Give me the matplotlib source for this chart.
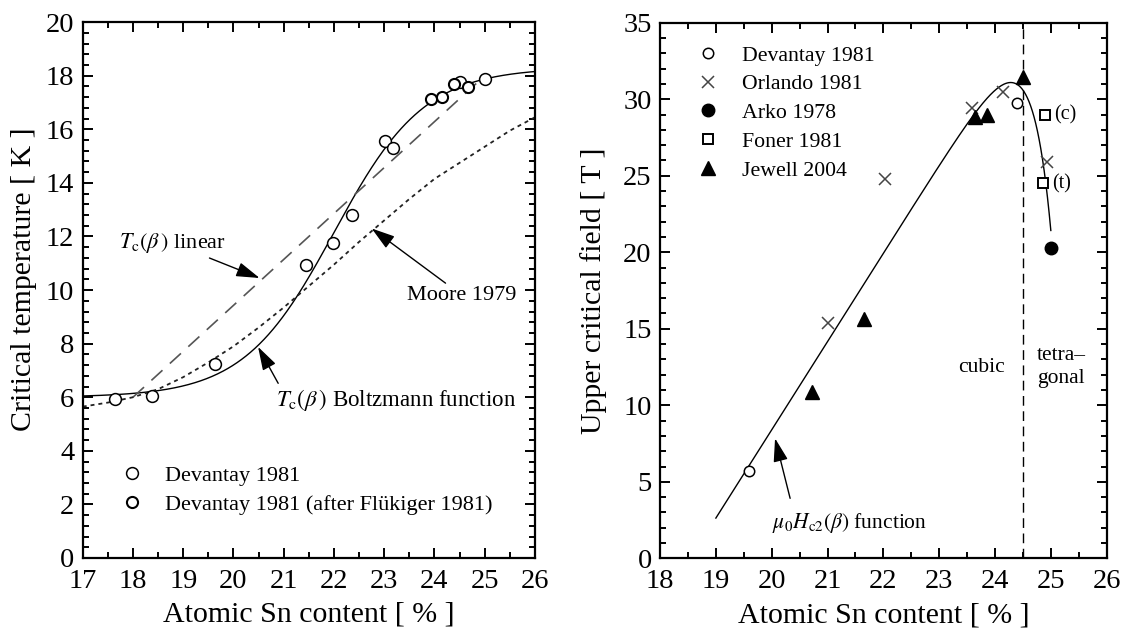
import numpy as np
import matplotlib
matplotlib.use("Agg")
import matplotlib.pyplot as plt
from matplotlib.ticker import MultipleLocator

plt.rcParams['font.family'] = ['Liberation Serif', 'DejaVu Serif']
plt.rcParams['mathtext.fontset'] = 'stix'

# ---------------- critical temperature data ----------------
devantay_sn = [17.64, 18.37, 19.64, 21.45, 21.98, 22.35, 23.01, 23.18, 24.50, 25.00]
devantay_tc = [5.95, 6.05, 7.25, 10.95, 11.75, 12.80, 15.55, 15.30, 17.77, 17.87]
flukiger_sn = [23.94, 24.14, 24.38, 24.67]
flukiger_tc = [17.15, 17.21, 17.71, 17.59]

# Moore 1979 Tc(Sn) curve
moore_sn = [17.0, 17.5, 18.0, 18.5, 19.0, 19.5, 20.0, 20.5, 21.0, 21.5,
            22.0, 22.5, 23.0, 23.5, 24.0, 24.5, 25.0, 25.5, 26.0]
moore_tc = [5.65, 5.80, 6.00, 6.30, 6.75, 7.30, 7.90, 8.60, 9.35, 10.15,
            10.95, 11.80, 12.60, 13.40, 14.15, 14.75, 15.35, 15.95, 16.45]

# linear Tc(beta) approximation (end points)
linear_sn = [18.0, 25.0]
linear_tc = [6.0, 18.0]

# Boltzmann Tc(beta) parameters (beta as atomic fraction)
TC_MAX = 18.3
TC_STEP = 12.3
BETA_MID = 0.22
BETA_WIDTH = 0.009

# ---------------- upper critical field data ----------------
dev_h_sn = [19.59, 24.39]
dev_h = [5.70, 29.75]
orlando_sn = [21.00, 22.03, 23.58, 24.15, 24.93]
orlando_h = [15.36, 24.80, 29.40, 30.50, 25.90]
arko_sn = [25.01]
arko_h = [20.26]
foner_sn = [24.89, 24.86]
foner_h = [28.97, 24.50]
foner_tags = ['(c)', '(t)']
jewell_sn = [20.72, 21.66, 23.64, 23.85, 24.51]
jewell_h = [10.90, 15.62, 28.86, 28.97, 31.48]

# mu0 Hc2(beta) function parameters
HC2_A = 1e-30
HC2_SCALE = 0.00348
HC2_SLOPE = 577.0
HC2_OFFSET = 107.0
CUBIC_TETRA = 24.5


def tc_boltzmann(sn):
    beta = np.asarray(sn) / 100.0
    return TC_MAX - TC_STEP / (1.0 + np.exp((beta - BETA_MID) / BETA_WIDTH))


def hc2_function(sn):
    beta = np.asarray(sn) / 100.0
    return -HC2_A * np.exp(beta / HC2_SCALE) + HC2_SLOPE * beta - HC2_OFFSET


fig = plt.figure(figsize=(11.39, 6.33), dpi=100)
ax1 = fig.add_axes([0.0726, 0.1185, 0.3971, 0.8465])
ax2 = fig.add_axes([0.5795, 0.1180, 0.3921, 0.8460])

TICK_FS = 20.5
LABEL_FS = 21.5
TEXT_FS = 16

for ax in (ax1, ax2):
    for sp in ax.spines.values():
        sp.set_linewidth(1.6)
    ax.tick_params(which='both', direction='in', top=True, right=True,
                   width=1.4, labelsize=TICK_FS)
    ax.tick_params(which='major', length=7)
    ax.tick_params(which='minor', length=4)
    ax.tick_params(axis='x', which='major', pad=8)
    ax.tick_params(axis='y', which='major', pad=6)

# ---------------- left panel ----------------
sn_grid = np.linspace(17, 26, 400)
ax1.plot(sn_grid, tc_boltzmann(sn_grid), color='k', lw=1.0)
ax1.plot(linear_sn, linear_tc, color='#555555', lw=1.2, dashes=(9, 6))
ax1.plot(moore_sn, moore_tc, color='#222222', lw=1.3, dashes=(2.2, 2.2))

ax1.plot(devantay_sn, devantay_tc, 'o', ls='none', ms=8.5, mfc='white',
         mec='k', mew=1.1, label='Devantay 1981')
ax1.plot(flukiger_sn, flukiger_tc, 'o', ls='none', ms=8, mfc='white',
         mec='k', mew=1.5, label='Devantay 1981 (after Fl\u00fckiger 1981)')

ax1.set_xlim(17, 26)
ax1.set_ylim(0, 20)
ax1.xaxis.set_major_locator(MultipleLocator(1))
ax1.xaxis.set_minor_locator(MultipleLocator(0.5))
ax1.yaxis.set_major_locator(MultipleLocator(2))
ax1.yaxis.set_minor_locator(MultipleLocator(0.4))
ax1.set_xlabel('Atomic Sn content [ % ]', fontsize=LABEL_FS)
ax1.set_ylabel('Critical temperature [ K ]', fontsize=LABEL_FS)
ax1.xaxis.set_label_coords(0.5, -0.082)
ax1.yaxis.set_label_coords(-0.100, 0.52)

arrow = dict(arrowstyle='-|>,head_length=0.9,head_width=0.28', color='k',
             lw=1.0, mutation_scale=16, shrinkA=0, shrinkB=0)
ax1.annotate(r'$T_{\rm c}(\beta\,)$ linear', xy=(20.52, 10.45),
             xytext=(19.85, 11.3), fontsize=TEXT_FS, ha='right', va='bottom',
             arrowprops=arrow)
ax1.annotate('Moore 1979', xy=(22.75, 12.3), xytext=(24.55, 9.8),
             fontsize=TEXT_FS, ha='center', va='center', arrowprops=arrow)
ax1.annotate('', xy=(20.49, 7.88), xytext=(20.89, 6.52), arrowprops=arrow)
ax1.text(20.85, 5.9, r'$T_{\rm c}(\beta\,)$ Boltzmann function',
         fontsize=16.5, ha='left', va='center')

ax1.legend(loc='upper left', bbox_to_anchor=(0.079, 0.173), frameon=False,
           fontsize=TEXT_FS, handlelength=1.2, handletextpad=0.9,
           labelspacing=0.385, borderaxespad=0, borderpad=0)

# ---------------- right panel ----------------
sn_h = np.linspace(19.0, 25.0, 400)
ax2.plot(sn_h, hc2_function(sn_h), color='k', lw=1.0)
ax2.axvline(CUBIC_TETRA, color='k', lw=1.0, dashes=(7, 4))

ax2.plot(dev_h_sn, dev_h, 'o', ls='none', ms=7.5, mfc='white', mec='k',
         mew=1.1, label='Devantay 1981')
ax2.plot(orlando_sn, orlando_h, 'x', ls='none', ms=9, mec='#444444',
         mew=1.1, label='Orlando 1981')
ax2.plot(arko_sn, arko_h, 'o', ls='none', ms=9, color='k', label='Arko 1978')
ax2.plot(foner_sn, foner_h, 's', ls='none', ms=6.5, mfc='white', mec='k',
         mew=1.4, label='Foner 1981')
ax2.plot(jewell_sn, jewell_h, '^', ls='none', ms=10, color='k',
         label='Jewell 2004')
for x, y, tag in zip(foner_sn, foner_h, foner_tags):
    ax2.text(x + 0.17, y, tag, fontsize=14.5, ha='left', va='center')

ax2.text(23.75, 12.5, 'cubic', fontsize=15.5, ha='center', va='center')
ax2.text(24.75, 12.5, 'tetra\u2013\ngonal', fontsize=15.5, ha='left',
         va='center', linespacing=1.3)

ax2.annotate('', xy=(20.06, 7.84), xytext=(20.33, 3.92), arrowprops=arrow)
ax2.text(20.0, 2.3, r'$\mu_0 H_{\rm c2}(\beta)$ function', fontsize=15.5,
         ha='left', va='center')

ax2.set_xlim(18, 26)
ax2.set_ylim(0, 35)
ax2.xaxis.set_major_locator(MultipleLocator(1))
ax2.xaxis.set_minor_locator(MultipleLocator(0.5))
ax2.yaxis.set_major_locator(MultipleLocator(5))
ax2.yaxis.set_minor_locator(MultipleLocator(1))
ax2.set_xlabel('Atomic Sn content [ % ]', fontsize=LABEL_FS)
ax2.set_ylabel('Upper critical field [ T ]', fontsize=LABEL_FS)
ax2.xaxis.set_label_coords(0.5, -0.082)
ax2.yaxis.set_label_coords(-0.118, 0.5)

ax2.legend(loc='upper left', bbox_to_anchor=(0.077, 0.958), frameon=False,
           fontsize=15.7, handlelength=1.2, handletextpad=1.0,
           labelspacing=0.39, borderaxespad=0, borderpad=0)

fig.savefig('out.png', dpi=100, facecolor='white')
